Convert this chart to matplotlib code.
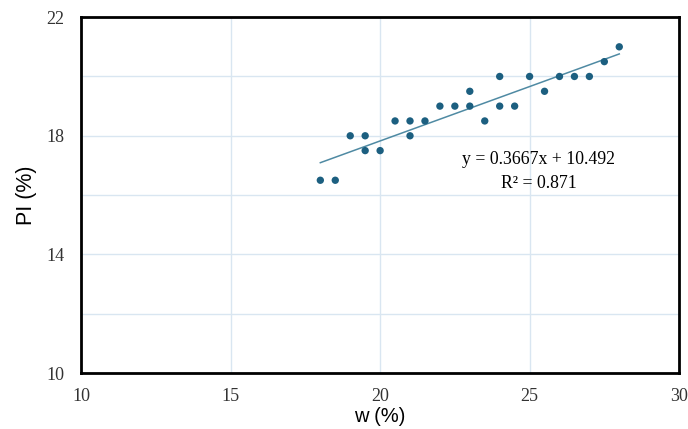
import numpy as np
import matplotlib.pyplot as plt

# water content vs plasticity index
w = [18, 18.5, 19, 19.5, 19.5, 20, 20.5, 21, 21, 21.5, 22, 22.5, 23, 23, 23.5,
     24, 24, 24.5, 25, 25.5, 26, 26.5, 27, 27.5, 28]
pi = [16.5, 16.5, 18, 18, 17.5, 17.5, 18.5, 18.5, 18, 18.5, 19, 19, 19.5, 19, 18.5,
      20, 19, 19, 20, 19.5, 20, 20, 20, 20.5, 21]

slope = 0.3667
intercept = 10.492
r2 = 0.871

fig = plt.figure(figsize=(6.88, 4.29), dpi=100)
ax = fig.add_axes([0.118, 0.1305, 0.869, 0.8295])

ax.scatter(w, pi, s=28, color='#1c5f80', zorder=3, edgecolors='none')
xfit = np.array([min(w), max(w)])
ax.plot(xfit, slope * xfit + intercept, color='#4f8aa3', linewidth=1.1, zorder=2)

ax.text(25.3, 17.2, 'y = 0.3667x + 10.492', ha='center', va='center',
        family='Liberation Serif', fontsize=12.8)
ax.text(25.3, 16.4, 'R² = 0.871', ha='center', va='center',
        family='Liberation Serif', fontsize=12.8)

ax.set_xlim(10, 30)
ax.set_ylim(10, 22)
ax.set_xticks([10, 15, 20, 25, 30])
ax.set_yticks([10, 14, 18, 22])
ax.set_yticks([12, 16, 20], minor=True)
ax.grid(True, which='both', color='#d9e6f1', linewidth=1)
ax.set_axisbelow(True)
ax.tick_params(which='both', length=0, labelsize=13, labelcolor='#333333')
ax.tick_params(axis='x', pad=11)
ax.tick_params(axis='y', pad=12)
for lab in ax.get_xticklabels() + ax.get_yticklabels():
    lab.set_family('Liberation Serif')
for sp in ax.spines.values():
    sp.set_linewidth(2)
    sp.set_color('black')

ax.set_xlabel('w (%)', family='Liberation Sans', fontsize=14.5, labelpad=1)
ax.set_ylabel('PI (%)', family='Liberation Sans', fontsize=15.5, labelpad=7)

fig.savefig('out.png', dpi=100)
